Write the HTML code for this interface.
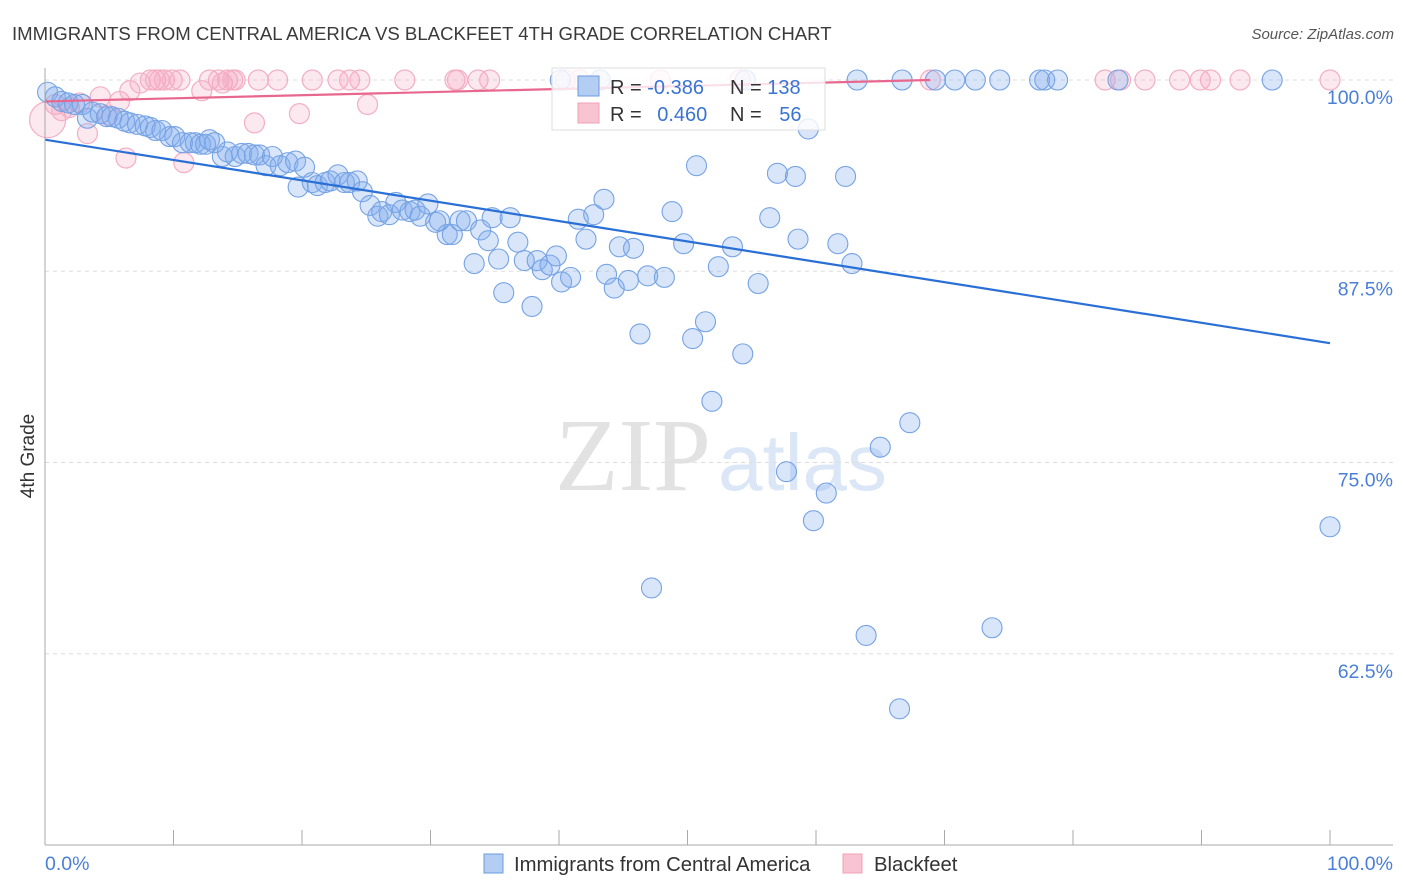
<!DOCTYPE html>
<html><head><meta charset="utf-8">
<style>
body{margin:0;background:#fff;font-family:"Liberation Sans",sans-serif;}
#wrap{position:relative;width:1406px;height:892px;overflow:hidden;}
</style></head>
<body>
<div id="wrap">
<svg id="svg" width="1406" height="892" xmlns="http://www.w3.org/2000/svg">
<text x="12" y="40" font-size="18.6" fill="#3a3a3a">IMMIGRANTS FROM CENTRAL AMERICA VS BLACKFEET 4TH GRADE CORRELATION CHART</text>
<text x="1394" y="39" font-size="15" fill="#555" font-style="italic" text-anchor="end">Source: ZipAtlas.com</text>
<text x="555" y="490" font-size="104" fill="#e2e2e2" font-family="Liberation Serif,serif">ZIP</text>
<text x="718" y="490" font-size="80" fill="#dbe6f7" font-family="Liberation Sans,sans-serif">atlas</text>
<text transform="translate(34,456) rotate(-90)" font-size="19" fill="#333" text-anchor="middle">4th Grade</text>
<g id="grid"></g>
<g id="marks"></g>
<g id="axes"></g>
<g>
<rect x="552" y="68" width="273" height="62" fill="#fff" fill-opacity="0.8" stroke="#ddd"/>
<rect x="578" y="76" width="21" height="20" fill="#b4cdf2" stroke="#6a9be0"/>
<rect x="578" y="103" width="21" height="20" fill="#f9c4d2" stroke="#f0a0b8"/>
<text x="610" y="94" font-size="20" fill="#333">R = <tspan fill="#3a74d2">-0.386</tspan></text>
<text x="730" y="94" font-size="20" fill="#333">N = <tspan fill="#3a74d2">138</tspan></text>
<text x="610" y="121" font-size="20" fill="#333">R = <tspan fill="#3a74d2" dx="10">0.460</tspan></text>
<text x="730" y="121" font-size="20" fill="#333">N = <tspan fill="#3a74d2" dx="12">56</tspan></text>
</g>
<g>
<rect x="484" y="854" width="19" height="19" fill="#b4cdf2" stroke="#6a9be0"/>
<text x="514" y="871" font-size="20.3" fill="#333">Immigrants from Central America</text>
<rect x="843" y="854" width="19" height="19" fill="#f9c4d2" stroke="#f0a0b8"/>
<text x="874" y="871" font-size="20.3" fill="#333">Blackfeet</text>
</g>
</svg>
</div>
<script>
const yTicks=[100,87.5,75,62.5];
const yTickLabels=["100.0%","87.5%","75.0%","62.5%"];
const xTickLabels=["0.0%","100.0%"];
const blueX=[0.2,0.8,1.3,1.8,2.3,2.9,3.3,3.7,4.3,4.8,5.2,5.7,6.2,6.6,7.2,7.8,8.2,8.6,9.1,9.7,10.1,10.7,11.3,11.7,12.1,12.5,12.8,13.2,13.8,14.2,14.8,15.3,15.8,16.3,16.7,17.2,17.7,18.3,18.9,19.5,19.7,20.2,20.8,21.2,21.8,22.2,22.8,23.3,23.7,24.3,24.7,25.3,25.9,26.2,26.8,27.3,27.8,28.4,28.8,29.2,29.8,30.4,30.7,31.3,31.7,32.3,32.8,33.4,33.9,34.5,34.8,35.3,35.7,36.2,36.8,37.3,37.9,38.3,38.7,39.3,39.8,40.2,40.9,41.5,42.1,42.7,43.5,43.7,44.3,44.7,45.4,45.8,46.3,46.9,47.2,48.2,48.8,49.7,50.4,50.7,51.4,51.9,52.4,53.5,54.3,55.5,56.4,57.0,57.7,58.4,58.6,59.4,59.8,60.8,61.7,62.3,62.8,63.2,63.9,65.0,66.5,66.7,67.3,69.3,70.8,72.4,73.7,74.3,77.4,77.8,78.8,83.5,95.5,100,54.5,43.2,40.1];
const blueY=[99.2,98.9,98.6,98.5,98.4,98.4,97.5,97.9,97.8,97.6,97.6,97.5,97.3,97.2,97.1,97.0,96.9,96.7,96.7,96.3,96.3,95.9,95.9,95.9,95.8,95.8,96.1,95.9,95.0,95.3,95.0,95.2,95.2,95.1,95.1,94.4,95.0,94.4,94.6,94.7,93.0,94.3,93.3,93.1,93.3,93.4,93.8,93.3,93.3,93.4,92.7,91.8,91.1,91.4,91.2,92.0,91.5,91.4,91.5,91.1,91.9,90.7,90.8,89.9,89.9,90.8,90.8,88.0,90.2,89.5,91.0,88.3,86.1,91.0,89.4,88.2,85.2,88.2,87.6,87.9,88.5,86.8,87.1,90.9,89.6,91.2,92.2,87.3,86.4,89.1,86.9,89.0,83.4,87.2,66.8,87.1,91.4,89.3,83.1,94.4,84.2,79.0,87.8,89.1,82.1,86.7,91.0,93.9,74.4,93.7,89.6,96.8,71.2,73.0,89.3,93.7,88.0,100,63.7,76.0,58.9,100,77.6,100,100,100,64.2,100,100,100,100,100,100,70.8,100,100,100];
const pinkX=[0.2,0.8,1.3,1.9,2.7,3.3,4.3,4.9,5.8,6.3,6.6,7.4,8.2,8.6,8.9,9.3,9.9,10.5,10.8,12.2,12.8,13.5,13.8,14.2,14.6,14.8,16.3,16.6,18.1,19.8,20.8,22.8,23.7,24.5,25.1,28.0,31.9,32.1,33.7,34.6,40.5,41.6,47.9,54.1,68.9,82.5,83.7,85.6,88.3,89.9,90.7,93.0,100];
const pinkY=[97.4,98.4,98.0,98.2,98.5,96.5,98.9,97.7,98.6,94.9,99.3,99.8,100,100,100,100,100,100,94.6,99.3,100,100,99.8,100,100,100,97.2,100,100,97.8,100,100,100,100,98.4,100,100,100,100,100,100,100,100,100,100,100,100,100,100,100,100,100,100];
const blueLine=[[0,96.1],[100,82.8]];
const pinkLine=[[0,98.6],[68.9,100]];
const NS="http://www.w3.org/2000/svg";
const L=45,R=1330,T=80;
const xs=v=>L+(R-L)*v/100;
const ys=v=>T+(100-v)*15.3;
function mk(tag,attrs,parent){const e=document.createElementNS(NS,tag);for(const k in attrs)e.setAttribute(k,attrs[k]);parent.appendChild(e);return e;}
const grid=document.getElementById('grid'),marks=document.getElementById('marks'),axes=document.getElementById('axes');
yTicks.forEach((t,i)=>{
 const g=mk('line',{x1:L,x2:1393,y1:ys(t),y2:ys(t),stroke:'#ddd','stroke-dasharray':'4,4'},grid);
 
 
 const tx=mk('text',{x:1393,y:ys(t)+24,'font-size':19.5,fill:'#4a7fd8','text-anchor':'end'},axes);
 tx.textContent=yTickLabels[i];
 
 
});
const ax=mk('line',{x1:L,x2:L,y1:68,y2:845,stroke:'#aaa'},axes);


const bx=mk('line',{x1:L,x2:1393,y1:845,y2:845,stroke:'#aaa'},axes);


for(let i=0;i<=10;i++){
 const tk=mk('line',{x1:xs(i*10),x2:xs(i*10),y1:830,y2:845,stroke:'#aaa'},axes);
 
 
}
[[0,'start',45],[100,'end',1393]].forEach((d,i)=>{
 const tx=mk('text',{x:d[2],y:870,'font-size':19.5,fill:'#4a7fd8','text-anchor':d[1]},axes);
 tx.textContent=xTickLabels[i];
 
 
});
pinkX.forEach((x,i)=>{
 const c=mk('circle',{cx:xs(x),cy:ys(pinkY[i]),r:i===0?18:10,fill:'rgba(244,165,190,0.25)',stroke:'#f4aec3','stroke-width':1.2},marks);
 
 
});
blueX.forEach((x,i)=>{
 const c=mk('circle',{cx:xs(x),cy:ys(blueY[i]),r:10,fill:'rgba(130,172,238,0.3)',stroke:'#75a2e4','stroke-width':1.1},marks);
 
 
});
const bl=mk('line',{x1:xs(blueLine[0][0]),y1:ys(blueLine[0][1]),x2:xs(blueLine[1][0]),y2:ys(blueLine[1][1]),stroke:'#2a6fd6','stroke-width':2.2},marks);


const pl=mk('line',{x1:xs(pinkLine[0][0]),y1:ys(pinkLine[0][1]),x2:xs(pinkLine[1][0]),y2:ys(pinkLine[1][1]),stroke:'#e8678f','stroke-width':2.2},marks);


</script>
</body></html>
